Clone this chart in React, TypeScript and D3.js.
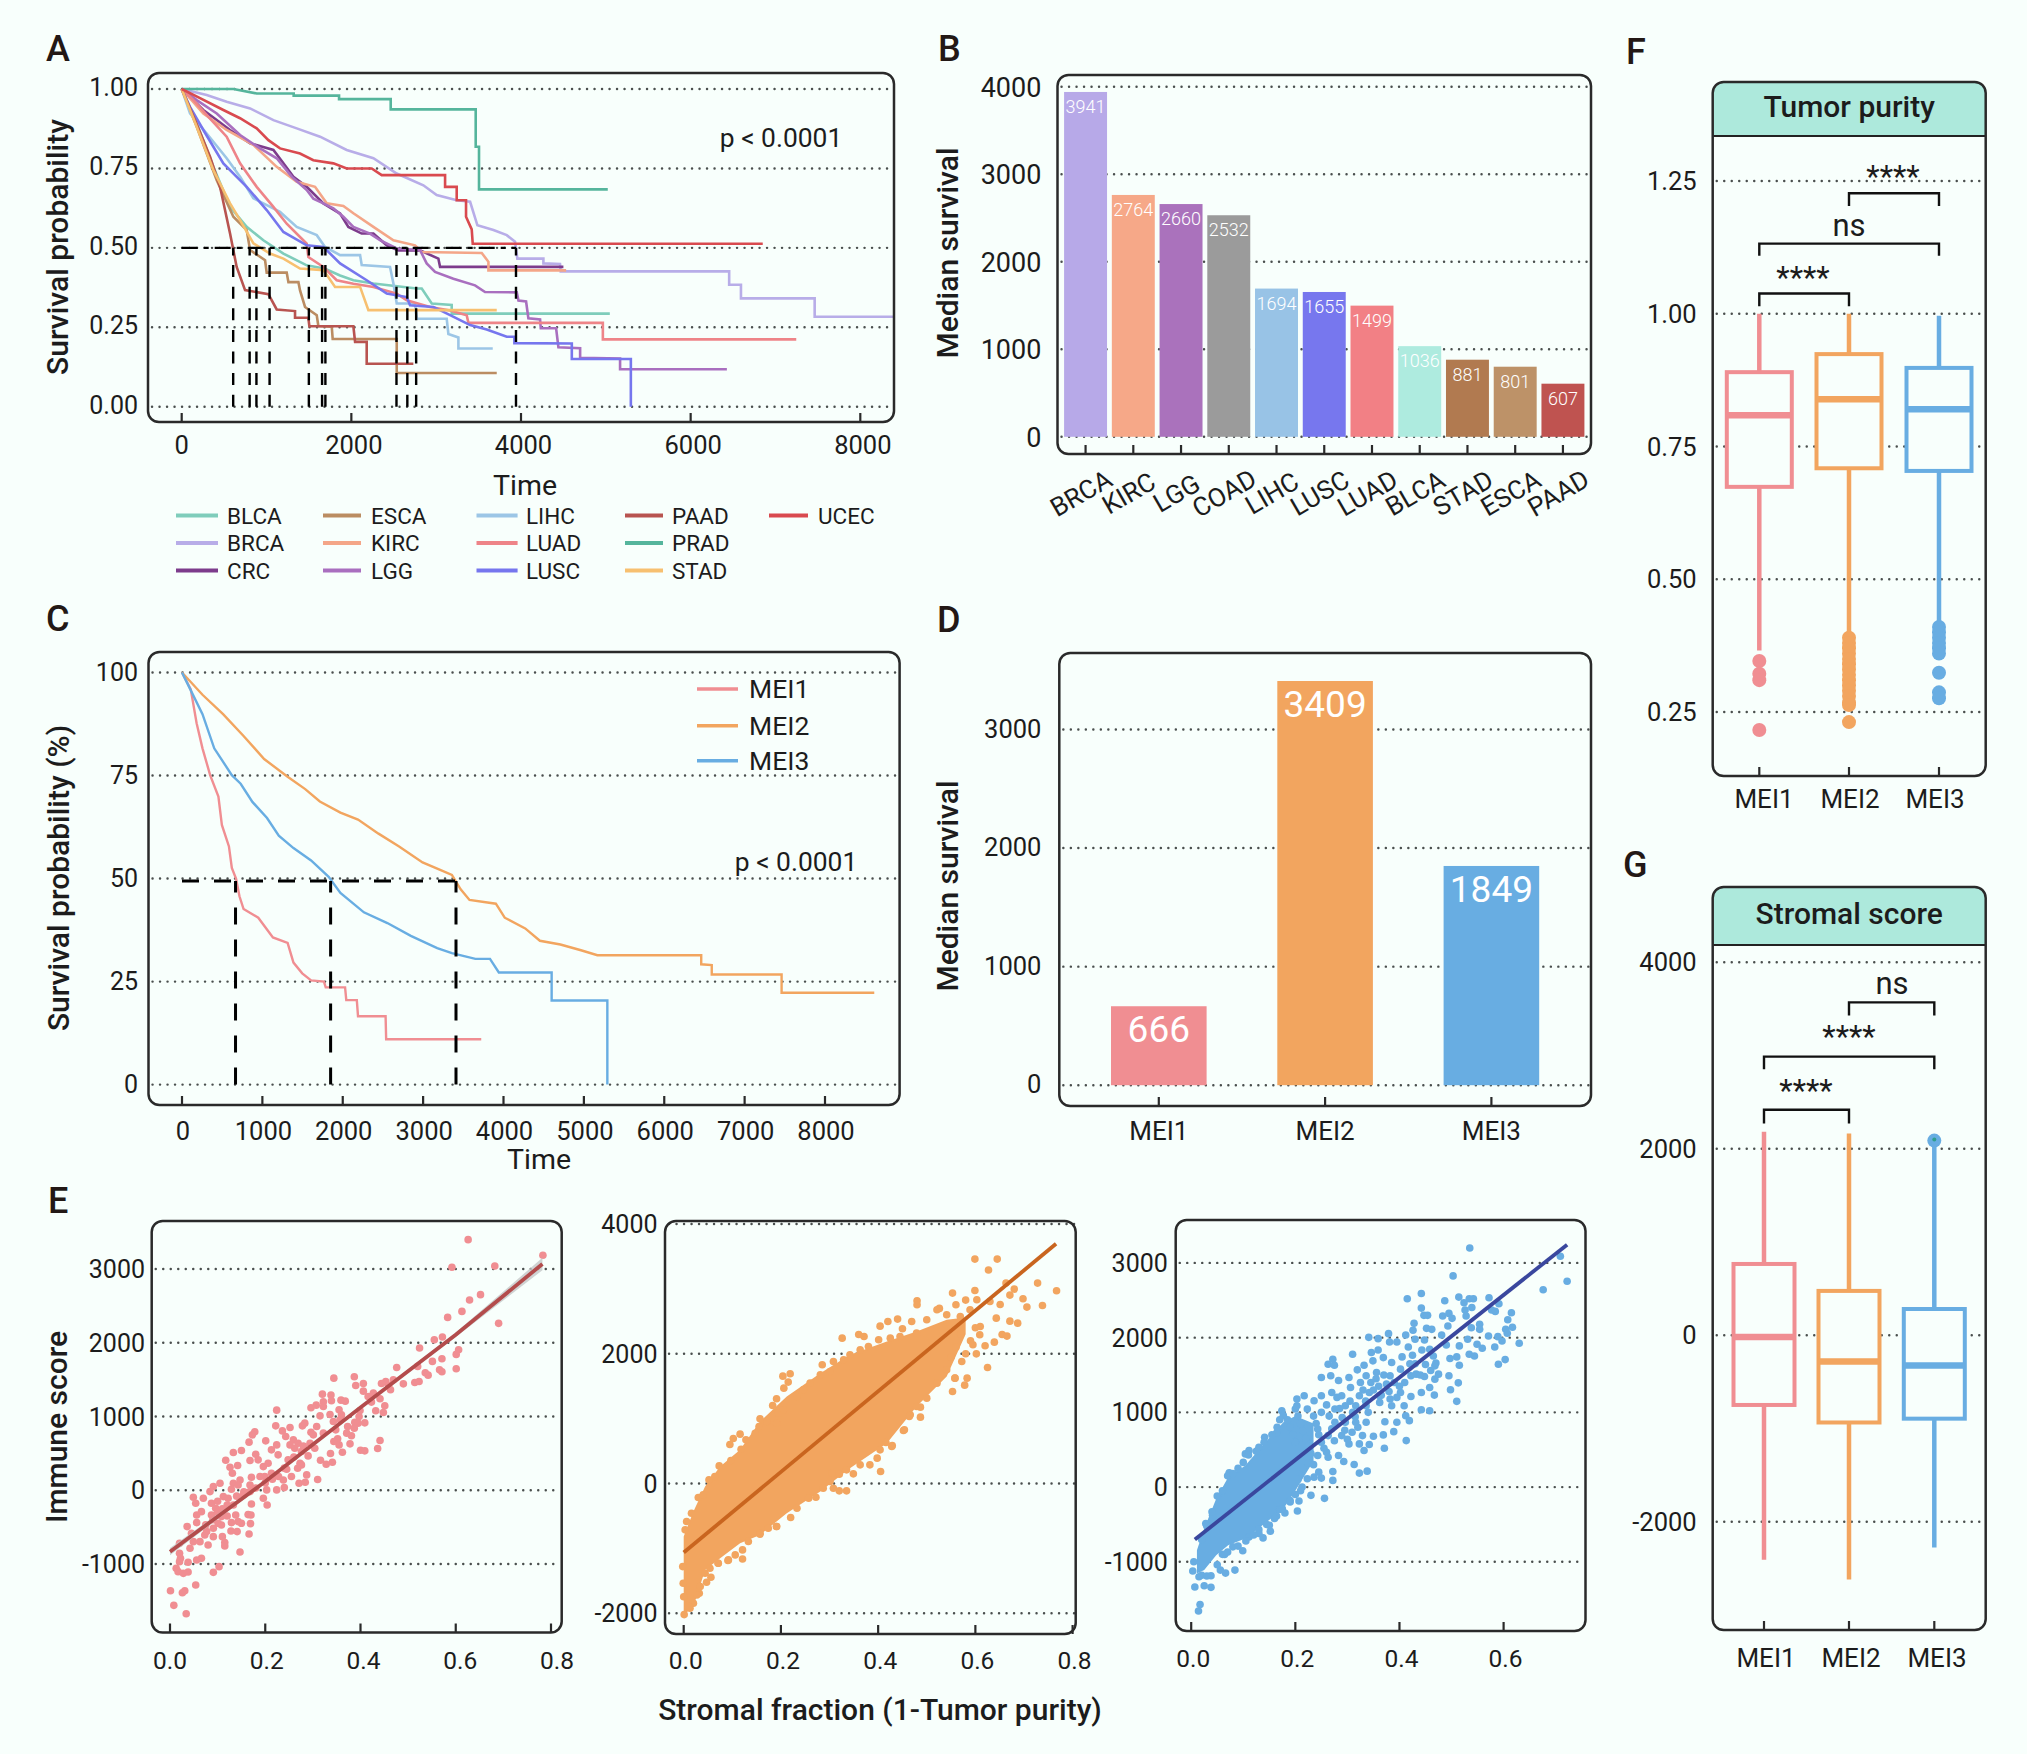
import React, { useEffect, useRef } from 'react';
import * as d3 from 'd3';

type Pt = [number, number];
type Sel = d3.Selection<SVGGElement, unknown, null, undefined>;

const BG = '#f8fffc';
const INK = '#1c1c1c';
const FONT = 'Roboto, sans-serif';

// Panel A
const cancerNames = ['BLCA', 'BRCA', 'CRC', 'ESCA', 'KIRC', 'LGG', 'LIHC', 'LUAD', 'LUSC', 'PAAD', 'PRAD', 'STAD', 'UCEC'];
const cancerColors = ['#7fcdbb', '#b8ade8', '#7d3c8c', '#bb8d62', '#f4a688', '#a96fbf', '#9cc6e6', '#ee8488', '#7676ee', '#b85450', '#55b59c', '#f7c070', '#d94a4f'];
const blca: Pt[] = [[0, 1], [177, .892], [373, .755], [570, .629], [766, .566], [963, .524], [1199, .482], [1474, .445], [1690, .434], [1867, .413], [2024, .398], [2260, .388], [2771, .372], [2830, .372], [2948, .325], [3183, .32], [3183, .293], [5047, .293]];
const brca: Pt[] = [[0, 1], [295, .981], [530, .96], [806, .939], [1081, .902], [1356, .876], [1631, .85], [1945, .808], [2260, .782], [2535, .734], [2849, .697], [3006, .666], [3242, .65], [3400, .645], [3486, .571], [3675, .556], [3832, .54], [3930, .519], [3957, .466], [4264, .466], [4264, .451], [4460, .449], [4468, .426], [6454, .426], [6454, .384], [6593, .384], [6593, .341], [7462, .341], [7462, .283], [8400, .283]];
const crc: Pt[] = [[0, 1], [255, .934], [570, .871], [806, .829], [1081, .808], [1199, .766], [1317, .724], [1474, .692], [1670, .64], [1867, .608], [1965, .566], [2122, .545], [2260, .545], [2417, .508], [2555, .492], [2810, .492], [3026, .466], [3046, .44], [4500, .44]];
const esca: Pt[] = [[0, 1], [177, .881], [413, .713], [609, .598], [766, .556], [806, .493], [983, .461], [1002, .422], [1238, .422], [1258, .392], [1376, .392], [1395, .366], [1454, .314], [1592, .288], [1611, .254], [1769, .252], [1780, .213], [2535, .213], [2535, .106], [3714, .106]];
const kirc: Pt[] = [[0, 1], [255, .923], [530, .871], [845, .824], [1120, .755], [1356, .708], [1572, .692], [1710, .64], [1906, .632], [2024, .609], [2260, .566], [2496, .524], [2751, .508], [2830, .487], [3537, .484], [3616, .456], [3616, .429], [4532, .429]];
const lgg: Pt[] = [[0, 1], [177, .965], [413, .923], [688, .855], [924, .813], [1120, .782], [1297, .724], [1474, .682], [1552, .655], [1670, .64], [1788, .624], [1906, .598], [2024, .566], [2220, .545], [2338, .524], [2535, .498], [2810, .493], [2888, .451], [2987, .424], [3203, .403], [3458, .382], [3576, .361], [3950, .36], [3970, .334], [4060, .331], [4087, .278], [4225, .275], [4233, .247], [4414, .247], [4441, .187], [4697, .184], [4697, .154], [5168, .152], [5168, .118], [6427, .118]];
const lihc: Pt[] = [[0, 1], [98, .923], [295, .86], [530, .782], [688, .724], [845, .656], [1159, .613], [1356, .566], [1592, .54], [1690, .503], [1867, .477], [2103, .477], [2122, .446], [2456, .44], [2496, .388], [2535, .325], [2751, .325], [2771, .277], [3124, .277], [3144, .229], [3262, .218], [3262, .183], [3667, .183]];
const luad: Pt[] = [[0, 1], [138, .965], [334, .907], [530, .85], [688, .766], [884, .692], [1081, .629], [1238, .576], [1474, .513], [1493, .471], [1670, .44], [1827, .398], [2024, .387], [2260, .377], [2535, .356], [2653, .335], [2928, .314], [3164, .303], [3360, .288], [3380, .264], [4965, .264], [4965, .212], [7245, .212]];
const lusc: Pt[] = [[0, 1], [98, .944], [255, .871], [491, .766], [766, .692], [1002, .619], [1199, .55], [1474, .508], [1670, .503], [1867, .451], [2181, .398], [2417, .356], [2653, .345], [2692, .319], [2967, .314], [3164, .288], [3400, .257], [3596, .243], [3832, .22], [3922, .22], [3922, .2], [4599, .199], [4599, .15], [5295, .15], [5295, 0]];
const paad: Pt[] = [[0, 1], [157, .902], [334, .787], [452, .692], [570, .545], [648, .44], [747, .367], [1022, .354], [1120, .306], [1336, .301], [1336, .28], [1493, .28], [1505, .253], [2024, .253], [2044, .204], [2181, .204], [2181, .135], [2731, .135]];
const prad: Pt[] = [[0, 1], [610, 1], [884, .986], [1320, .986], [1320, .979], [1855, .979], [1855, .968], [2464, .968], [2464, .936], [3466, .936], [3466, .818], [3505, .818], [3505, .684], [5023, .684]];
const stad: Pt[] = [[0, 1], [177, .881], [373, .745], [570, .64], [688, .587], [845, .514], [1041, .482], [1199, .466], [1395, .435], [1670, .43], [1808, .377], [2103, .377], [2201, .304], [3714, .304]];
const ucec: Pt[] = [[0, 1], [216, .971], [491, .934], [688, .908], [884, .876], [1022, .839], [1159, .813], [1395, .797], [1552, .776], [1788, .766], [1945, .75], [2240, .75], [2358, .729], [3105, .729], [3105, .692], [3242, .692], [3242, .65], [3352, .65], [3352, .598], [3419, .558], [3431, .513], [6850, .513]];
const cancerCurves = [blca, brca, crc, esca, kirc, lgg, lihc, luad, lusc, paad, prad, stad, ucec];
const cancerMedians = [607, 801, 881, 1036, 1499, 1655, 1694, 2532, 2660, 2764, 3941];

// Panel B
const medianCats = ['BRCA', 'KIRC', 'LGG', 'COAD', 'LIHC', 'LUSC', 'LUAD', 'BLCA', 'STAD', 'ESCA', 'PAAD'];
const medianVals = [3941, 2764, 2660, 2532, 1694, 1655, 1499, 1036, 881, 801, 607];
const medianColors = ['#b7a9e8', '#f6a888', '#aa72bc', '#9b9b9b', '#98c3e6', '#7777ee', '#f28085', '#aeebdf', '#b17a50', '#bd9268', '#bf5350'];

// Panels C, D
const meiNames = ['MEI1', 'MEI2', 'MEI3'];
const meiColors = ['#f08e92', '#f2a55f', '#68ade2'];
const mei1: Pt[] = [[0, 100], [109, 95.9], [182, 87.7], [255, 81.6], [350, 75.1], [453, 69.9], [496, 63], [584, 57.8], [620, 52.6], [672, 50], [715, 45.7], [766, 42.6], [949, 40.5], [1131, 35.7], [1314, 34.4], [1387, 29.6], [1496, 27], [1606, 25.3], [1766, 25], [1788, 23.6], [2029, 23.6], [2044, 20.5], [2175, 20.5], [2190, 16.6], [2533, 16.6], [2540, 11], [3723, 11]];
const mei2: Pt[] = [[0, 100], [255, 94.6], [511, 89.9], [766, 84.6], [1022, 79], [1314, 74.7], [1533, 71.7], [1715, 68.7], [1971, 66], [2190, 64.3], [2445, 60.9], [2701, 57.8], [2993, 53.9], [3212, 52.1], [3358, 50.9], [3467, 47.4], [3577, 44.8], [3905, 43.9], [4015, 40.5], [4270, 37.9], [4453, 34.9], [4708, 34], [4964, 32.6], [5168, 31.4], [6460, 31.4], [6460, 29.2], [6591, 29], [6591, 26.7], [7460, 26.7], [7460, 22.3], [8613, 22.3]];
const mei3: Pt[] = [[0, 100], [146, 94.2], [255, 89.9], [401, 81.6], [620, 75.1], [730, 73], [876, 68.6], [1058, 64.7], [1204, 60.4], [1387, 57.4], [1606, 54.4], [1825, 50.4], [1971, 46.5], [2263, 41.8], [2555, 39.2], [2847, 36.1], [3175, 33.1], [3358, 31.9], [3650, 30.5], [3832, 30.5], [3942, 27.2], [4599, 27.2], [4599, 20.4], [5292, 20.4], [5292, 0]];
const meiMedians = [666, 3409, 1849];
const meiBarVals = [666, 3409, 1849];

// Panel E, first scatter
const scatter1: Pt[] = [[.626, 3398], [.783, 3186], [.592, 3023], [.682, 3041], [.652, 2652], [.629, 2579], [.613, 2425], [.583, 2344], [.69, 2263], [.572, 2077], [.555, 2041], [.524, 1928], [.606, 1905], [.601, 1842], [.571, 1783], [.551, 1747], [.52, 1679], [.476, 1665], [.566, 1634], [.571, 1606], [.601, 1647], [.536, 1593], [.542, 1561], [.514, 1462], [.523, 1475], [.49, 1443], [.463, 1362], [.453, 1475], [.444, 1448], [.459, 1421], [.469, 1498], [.344, 1520], [.387, 1538], [.39, 1421], [.406, 1448], [.406, 1344], [.32, 1303], [.338, 1290], [.339, 1213], [.359, 1222], [.368, 1208], [.296, 1118], [.307, 1154], [.322, 1199], [.322, 1136], [.315, 1009], [.336, 1027], [.355, 1091], [.36, 1023], [.343, 932], [.357, 955], [.399, 1081], [.397, 1000], [.395, 910], [.388, 923], [.409, 914], [.427, 1317], [.441, 1240], [.423, 1195], [.451, 1145], [.448, 1054], [.432, 1077], [.416, 1272], [.441, 674], [.436, 566], [.4, 543], [.409, 534], [.378, 629], [.362, 516], [.355, 615], [.352, 697], [.337, 498], [.341, 380], [.328, 353], [.316, 407], [.31, 145], [.373, 864], [.387, 842], [.371, 774], [.381, 738], [.348, 819], [.344, 661], [.308, 864], [.322, 774], [.224, 1086], [.222, 873], [.252, 851], [.278, 873], [.283, 910], [.236, 805], [.243, 729], [.296, 787], [.301, 751], [.259, 683], [.269, 638], [.252, 615], [.262, 570], [.276, 525], [.294, 638], [.304, 570], [.29, 466], [.273, 367], [.276, 344], [.268, 299], [.287, 208], [.271, 95], [.284, 109], [.255, 186], [.238, 140], [.24, 36], [.224, 5], [.228, 186], [.245, 285], [.224, 615], [.213, 548], [.227, 480], [.248, 412], [.201, 670], [.178, 792], [.173, 751], [.166, 652], [.15, 538], [.133, 511], [.117, 407], [.142, 335], [.126, 312], [.131, 231], [.18, 489], [.168, 403], [.185, 412], [.196, 321], [.206, 367], [.213, 231], [.199, 186], [.171, 176], [.189, 186], [.168, 72], [.147, 140], [.133, 95], [.129, 14], [.143, 72], [.105, 95], [.091, 50], [.084, -18], [.049, -95], [.054, -176], [.07, -109], [.112, -86], [.122, -109], [.133, -199], [.154, -63], [.168, -18], [.196, -109], [.204, -199], [.171, -186], [.203, 5], [.087, -176], [.096, -244], [.066, -290], [.056, -335], [.087, -335], [.108, -357], [.164, -330], [.17, -335], [.138, -335], [.143, -425], [.129, -439], [.169, -452], [.15, -448], [.101, -448], [.108, -471], [.091, -516], [.056, -439], [.036, -493], [.045, -584], [.128, -552], [.141, -561], [.166, -593], [.11, -629], [.091, -629], [.073, -606], [.077, -561], [.063, -697], [.08, -742], [.115, -710], [.115, -756], [.049, -697], [.042, -787], [.02, -719], [.02, -855], [.022, -923], [.02, -968], [.147, -837], [.066, -923], [.056, -946], [.038, -977], [.103, -1036], [.091, -1113], [.038, -1109], [.013, -1059], [.017, -1104], [.028, -1127], [.054, -1285], [.031, -1362], [.026, -1389], [.001, -1362], [.008, -1561], [.034, -1674], [.1, -300], [.11, -250], [.12, -200], [.09, -400], [.075, -470], [.12, -350], [.1, -150], [.14, -80], [.155, -20], [.18, 30], [.2, 100], [.215, 150], [.24, 300], [.26, 450], [.28, 600]];
const fit1: Pt[] = [[0, -833], [.2, 118], [.4, 1122], [.6, 2108], [.782, 3068]];
const fit1Ci = [50, 18, 18, 30, 85];

// Panel E, second scatter
const core2X = [0, .02, .044, .075, .116, .157, .212, .281, .342, .418, .479, .541, .58];
const core2High = [-817, -432, -46, 262, 519, 956, 1341, 1701, 1984, 2190, 2344, 2524, 2560];
const core2Low = [-2025, -1897, -1331, -1151, -920, -792, -457, -123, 236, 622, 1187, 1650, 2300];
const scatter2: Pt[] = [[.599, 3459], [.645, 3459], [.627, 3290], [.663, 3089], [.728, 3089], [.767, 2971], [.68, 2997], [.671, 2904], [.599, 2976], [.553, 2935], [.48, 2817], [.48, 2755], [.698, 2848], [.738, 2745], [.706, 2719], [.651, 2760], [.58, 2827], [.56, 2755], [.526, 2699], [.643, 2549], [.671, 2503], [.687, 2472], [.655, 2298], [.665, 2272], [.639, 2179], [.61, 2421], [.609, 2292], [.595, 2138], [.62, 2123], [.602, 1999], [.625, 1789], [.583, 1624], [.578, 1516], [.553, 1419], [.558, 1624], [.44, 2534], [.42, 2498], [.404, 2426], [.469, 2498], [.45, 2385], [.36, 2298], [.326, 2241], [.371, 2267], [.285, 1830], [.204, 1655], [.219, 1691], [.215, 1563], [.206, 1470], [.191, 1306], [.183, 1203], [.195, 1085], [.157, 997], [.116, 761], [.102, 694], [.095, 601], [.128, 673], [.118, 529], [.097, 355], [.073, 272], [.052, 57], [.03, -216], [.487, 1177], [.487, 1023], [.464, 1033], [.454, 828], [.429, 586], [.416, 632], [.398, 391], [.405, 185], [.383, 288], [.349, 149], [.32, 144], [.335, -113], [.32, -113], [.308, -72], [.272, -211], [.22, -524], [.191, -663], [.157, -781], [.121, -1162], [.091, -1187], [.071, -1228], [.056, -1444], [.047, -1521], [.032, -1691], [.013, -1922], [.001, -2020],
  [.02, -1845], [.027, -1717], [.034, -1588], [.044, -1383], [.054, -1306], [.071, -1228], [.092, -1177], [.106, -1100], [.121, -1023], [.133, -894], [.157, -766], [.174, -689], [.191, -663], [.233, -380], [.257, -226], [.287, -72], [.301, 31], [.305, 159], [.335, 211], [.363, 288], [.404, 519], [.428, 571], [.452, 817], [.466, 1059], [.479, 1187], [.5, 1316], [.521, 1547], [.541, 1753], [.558, 1624], [.572, 1881],
  [.003, -714], [.006, -586], [.016, -457], [.04, -175], [.064, 108], [.147, 776], [.155, 879], [.171, 956], [.191, 930], [.205, 1136], [.233, 1342], [.246, 1444], [.26, 1547], [.281, 1676], [.301, 1727], [.308, 1881], [.329, 1907], [.342, 1984], [.363, 2061], [.38, 2113], [.401, 2215], [.425, 2241], [.445, 2267], [.479, 2318], [.5, 2524], [.521, 2678], [.541, 2601], [.569, 2575], [.589, 2678], [.603, 2832], [.63, 2806],
  [-.002, -1280], [-.001, -1537], [0, -1745], [.01, -1897],
  [.55, 1950], [.56, 2100], [.57, 2300], [.58, 2000], [.59, 2200], [.6, 2400]];
const fit2: Pt[] = [[0, -1064], [.766, 3696]];

// Panel E, third scatter
const core3X = [.011, .025, .048, .071, .104, .137, .177, .2, .235];
const core3High = [-844, -556, -156, 133, 289, 556, 867, 950, 850];
const core3Low = [-1156, -1111, -911, -778, -689, -511, -289, -50, 350];
const scatter3: Pt[] = [[.535, 3200], [.709, 3089], [.503, 2826], [.722, 2755], [.676, 2640], [.415, 2520], [.442, 2591], [.487, 2493], [.514, 2542], [.524, 2466], [.534, 2520], [.542, 2520], [.572, 2533], [.591, 2453], [.539, 2404], [.442, 2395], [.447, 2298], [.454, 2298], [.483, 2289], [.495, 2324], [.501, 2258], [.526, 2369], [.528, 2289], [.577, 2369], [.584, 2351], [.615, 2333], [.608, 2240], [.428, 2191], [.426, 2098], [.452, 2124], [.462, 2111], [.493, 2155], [.538, 2133], [.554, 2178], [.554, 2111], [.617, 2138], [.604, 2111], [.607, 2058], [.341, 2004], [.359, 1986], [.379, 2053], [.381, 1942], [.395, 1942], [.412, 2035], [.43, 1978], [.448, 1969], [.481, 2035], [.49, 1902], [.515, 1889], [.531, 1978], [.571, 2022], [.589, 2013], [.597, 1955], [.63, 1924], [.583, 1875], [.549, 1911], [.559, 1858], [.31, 1778], [.346, 1800], [.359, 1835], [.417, 1875], [.443, 1835], [.458, 1844], [.534, 1778], [.544, 1755], [.497, 1720], [.51, 1742], [.515, 1631], [.59, 1644], [.603, 1706], [.272, 1711], [.263, 1644], [.275, 1631], [.332, 1631], [.349, 1689], [.369, 1733], [.385, 1667], [.405, 1742], [.425, 1764], [.465, 1755], [.468, 1622], [.495, 1489], [.25, 1467], [.268, 1489], [.283, 1427], [.303, 1467], [.319, 1569], [.336, 1489], [.356, 1533], [.382, 1489], [.402, 1578], [.422, 1489], [.432, 1511], [.448, 1480], [.468, 1444], [.475, 1511], [.513, 1395], [.498, 1302], [.51, 1147], [.467, 1231], [.458, 1333], [.442, 1266], [.422, 1213], [.402, 1266], [.382, 1178], [.362, 1222], [.342, 1266], [.323, 1222], [.306, 1333], [.289, 1222], [.27, 1266], [.25, 1222], [.236, 1155], [.217, 1222], [.203, 1178], [.174, 1022], [.2, 1044], [.223, 1044], [.25, 1000], [.276, 1044], [.296, 1089], [.316, 1089], [.336, 1089], [.362, 1133], [.385, 1089], [.409, 1089], [.442, 1035], [.458, 1022], [.412, 955], [.372, 875], [.395, 867], [.419, 889], [.389, 742], [.369, 698], [.35, 680], [.413, 622], [.371, 520], [.342, 569], [.332, 489], [.323, 578], [.303, 578], [.329, 689], [.309, 733], [.289, 689], [.263, 689], [.243, 778], [.316, 867], [.336, 867], [.296, 867], [.276, 867], [.26, 467], [.243, 422], [.263, 400], [.283, 422], [.293, 342], [.313, 302], [.323, 187], [.338, 213], [.272, 209], [.272, 89], [.236, 133], [.223, 111], [.213, 0], [.23, -111], [.256, -151], [.207, -187], [.204, -320], [.18, -347], [.164, -387], [.152, -591], [.138, -680], [.15, -511], [.13, -622], [.111, -667], [.099, -853], [.064, -902], [.084, -1111], [.066, -1151], [.056, -1111], [.038, -1342], [.025, -1320], [.007, -1338], [.017, -1573], [.014, -1658], [.005, -1000], [.003, -1124], [.015, -1200], [.038, -1187], [.104, 444], [.111, 489], [.073, 191], [.041, -378], [.028, -489], [.13, 533], [.141, 667], [.164, 724], [.177, 956], [.203, 1089],
  [.185, 900], [.19, 800], [.195, 700], [.2, 600], [.205, 950], [.21, 850], [.215, 750], [.22, 650], [.225, 550], [.23, 450], [.235, 950], [.24, 850], [.245, 700], [.25, 600], [.255, 520], [.26, 1100], [.265, 950], [.27, 780], [.275, 620], [.28, 1200], [.285, 1050], [.29, 930], [.295, 760], [.3, 640], [.305, 1150], [.31, 1000], [.315, 940], [.32, 800], [.325, 1400], [.33, 1300], [.335, 1150], [.34, 1000], [.345, 1400], [.35, 1300], [.355, 1450], [.36, 1350], [.365, 1230], [.37, 1500], [.375, 1380], [.38, 1280], [.39, 1400], [.395, 1200], [.4, 1350], [.41, 1400], [.42, 1650], [.43, 1650], [.44, 1500], [.45, 1640], [.46, 1560], [.47, 1660],
  [.205, 100], [.215, 250], [.225, 320], [.235, 300], [.245, 200], [.25, 120], [.21, -50], [.2, -100], [.19, -200], [.17, -300],
  [.02, -700], [.03, -520], [.04, -330], [.05, -120], [.06, -50], [.07, 150], [.08, 180], [.09, 250], [.1, 330], [.11, 430], [.125, 480], [.14, 600], [.155, 700], [.165, 800], [.17, 900],
  [.02, -1180], [.03, -1190], [.05, -1040], [.06, -900], [.07, -870], [.08, -800], [.09, -790], [.105, -720], [.12, -640], [.13, -570], [.145, -500], [.16, -420], [.175, -290], [.19, -180]];
const fit3: Pt[] = [[.007, -702], [.722, 3244]];

// Panel F
const purityQ3 = [.89, .924, .898];
const purityMed = [.809, .839, .82];
const purityQ1 = [.674, .709, .704];
const purityHigh = [1, 1, .996];
const purityLow = [.366, .4, .42];
const purityOut = [
  [.346, .322, .31, .216],
  [.39, .38, .37, .36, .35, .34, .33, .32, .31, .3, .29, .28, .268, .263, .231],
  [.41, .4, .39, .38, .37, .36, .324, .287, .276],
];

// Panel G
const stromalQ3 = [765, 476, 282];
const stromalMed = [-18, -282, -324];
const stromalQ1 = [-747, -935, -894];
const stromalHigh = [2182, 2165, 2088];
const stromalLow = [-2406, -2618, -2276];
const stromalOut = [[], [], [2088]];

const text = (g: Sel, x: number, y: number, s: string, size: number, anchor = 'middle', weight = 400, fill = INK, rotate = 0) =>
  g.append('text')
    .attr('transform', `translate(${x},${y})${rotate ? ` rotate(${rotate})` : ''}`)
    .attr('text-anchor', anchor)
    .attr('font-family', FONT)
    .attr('font-size', size)
    .attr('font-weight', weight)
    .attr('fill', fill)
    .text(s);

const grid = (g: Sel, y: d3.ScaleLinear<number, number>, ticks: number[], x0: number, x1: number) => {
  ticks.forEach(t => {
    g.append('line')
      .attr('x1', x0 + 4).attr('x2', x1 - 1)
      .attr('y1', y(t)).attr('y2', y(t))
      .attr('stroke', '#4a4f4e')
      .attr('stroke-width', 2.4)
      .attr('stroke-linecap', 'round')
      .attr('stroke-dasharray', '0.1 7.4');
  });
};

const frame = (g: Sel, x0: number, y0: number, x1: number, y1: number) => {
  g.append('rect')
    .attr('x', x0).attr('y', y0)
    .attr('width', x1 - x0).attr('height', y1 - y0)
    .attr('rx', 11)
    .attr('fill', 'none')
    .attr('stroke', '#2a2a2a')
    .attr('stroke-width', 2.5);
};

const xTicks = (g: Sel, xs: number[], y1: number, len = 9) => {
  xs.forEach(x => {
    g.append('line').attr('x1', x).attr('x2', x).attr('y1', y1 - len).attr('y2', y1)
      .attr('stroke', '#2a2a2a').attr('stroke-width', 2.2);
  });
};

const yLabels = (g: Sel, y: d3.ScaleLinear<number, number>, ticks: number[], x: number, fmt: (v: number) => string, size = 25, dy = 0) => {
  ticks.forEach(t => text(g, x, y(t) + size * 0.36 + dy, fmt(t), size, 'end'));
};

function drawSurvivalA(g: Sel) {
  const x0 = 148, x1 = 894, y0 = 73, y1 = 422;
  const x = d3.scaleLinear().domain([0, 8000]).range([181.7, 860.3]);
  const y = d3.scaleLinear().domain([0, 1]).range([406.7, 89]);
  const ticks = [0, .25, .5, .75, 1];
  grid(g, y, ticks, x0, x1);
  const line = d3.line<Pt>().x(d => x(d[0])).y(d => y(d[1]));
  cancerCurves.forEach((c, i) => {
    g.append('path').attr('d', line(c)).attr('fill', 'none')
      .attr('stroke', cancerColors[i]).attr('stroke-width', 2.6);
  });
  cancerMedians.forEach(m => {
    g.append('line').attr('x1', x(m)).attr('x2', x(m)).attr('y1', y(0)).attr('y2', y(.5))
      .attr('stroke', '#000').attr('stroke-width', 2.4).attr('stroke-dasharray', '12 9.6');
  });
  g.append('line').attr('x1', x(0)).attr('x2', x(3941)).attr('y1', y(.5)).attr('y2', y(.5))
    .attr('stroke', '#000').attr('stroke-width', 2.4).attr('stroke-dasharray', '16 6 5 6');
  frame(g, x0, y0, x1, y1);
  const xt = [0, 2000, 4000, 6000, 8000];
  xTicks(g, xt.map(t => x(t)), y1);
  yLabels(g, y, ticks, 138, d3.format('.2f'), 25, -2);
  xt.forEach(t => text(g, x(t) + (t ? 2.5 : 0), 453.5, String(t), 25.5));
  text(g, 525, 494.5, 'Time', 28.5);
  text(g, 781, 147, 'p < 0.0001', 26.4);
  text(g, 67.5, 247, 'Survival probability', 30, 'middle', 500, INK, -90);

  // legend runs down then across
  const lineStart = [176, 323, 476.5, 625, 769];
  const lineEnd = [218, 361, 517.6, 663, 808];
  const textStart = [227, 371, 526, 672, 818];
  const rows = [515.5, 543, 570.6];
  cancerNames.forEach((n, i) => {
    const c = Math.floor(i / 3), r = i % 3;
    g.append('line').attr('x1', lineStart[c]).attr('x2', lineEnd[c]).attr('y1', rows[r]).attr('y2', rows[r])
      .attr('stroke', cancerColors[i]).attr('stroke-width', 4);
    text(g, textStart[c], rows[r] + 8, n, 22.5, 'start');
  });
}

function drawMedianB(g: Sel) {
  const x0 = 1057.5, x1 = 1591, y0 = 75, y1 = 454;
  const x = d3.scaleBand<string>().domain(medianCats).range([1061.7, 1586.8]).paddingInner(0.1).paddingOuter(0.05);
  const y = d3.scaleLinear().domain([0, 4000]).range([436.8, 86.8]);
  const ticks = [0, 1000, 2000, 3000, 4000];
  grid(g, y, ticks, x0, x1);
  medianCats.forEach((c, i) => {
    const bx = x(c)!, bw = x.bandwidth();
    g.append('rect').attr('x', bx).attr('y', y(medianVals[i])).attr('width', bw).attr('height', y(0) - y(medianVals[i]))
      .attr('fill', medianColors[i]);
    text(g, bx + bw / 2, y(medianVals[i]) + 21, String(medianVals[i]), 18, 'middle', 300, '#ffffff');
  });
  frame(g, x0, y0, x1, y1);
  const centers = medianCats.map(c => x(c)! + x.bandwidth() / 2);
  xTicks(g, centers, y1);
  yLabels(g, y, ticks, 1041.4, String, 27);
  medianCats.forEach((c, i) => text(g, centers[i], 501, c, 26, 'middle', 400, INK, -30));
  text(g, 958, 253, 'Median survival', 30, 'middle', 500, INK, -90);
}

function drawSurvivalC(g: Sel) {
  const x0 = 148.5, x1 = 899.6, y0 = 652, y1 = 1105;
  const x = d3.scaleLinear().domain([0, 8000]).range([182, 825]);
  const y = d3.scaleLinear().domain([0, 100]).range([1084.6, 672.5]);
  const ticks = [0, 25, 50, 75, 100];
  grid(g, y, ticks, x0, x1);
  const line = d3.line<Pt>().x(d => x(d[0])).y(d => y(d[1]));
  [mei1, mei2, mei3].forEach((c, i) => {
    g.append('path').attr('d', line(c)).attr('fill', 'none')
      .attr('stroke', meiColors[i]).attr('stroke-width', 2.4);
  });
  meiMedians.forEach(m => {
    g.append('line').attr('x1', x(m)).attr('x2', x(m)).attr('y1', y(0)).attr('y2', y(49.4))
      .attr('stroke', '#000').attr('stroke-width', 3).attr('stroke-dasharray', '17 15');
  });
  g.append('line').attr('x1', x(0)).attr('x2', x(3409)).attr('y1', y(49.4)).attr('y2', y(49.4))
    .attr('stroke', '#000').attr('stroke-width', 3.2).attr('stroke-dasharray', '17 15');
  frame(g, x0, y0, x1, y1);
  const xt = [0, 1000, 2000, 3000, 4000, 5000, 6000, 7000, 8000];
  xTicks(g, xt.map(t => x(t)), y1);
  yLabels(g, y, ticks, 138, String, 25, -1);
  xt.forEach(t => text(g, x(t) + 1, 1140, String(t), 25.5));
  text(g, 539, 1169, 'Time', 28.5);
  text(g, 796, 871, 'p < 0.0001', 26.4);
  text(g, 69, 878, 'Survival probability (%)', 30, 'middle', 500, INK, -90);
  const rows = [689, 725.7, 760.7];
  meiNames.forEach((n, i) => {
    g.append('line').attr('x1', 697).attr('x2', 738).attr('y1', rows[i]).attr('y2', rows[i])
      .attr('stroke', meiColors[i]).attr('stroke-width', 3.4);
    text(g, 749, rows[i] + 9, n, 26.5, 'start');
  });
}

function drawMedianD(g: Sel) {
  const x0 = 1059.3, x1 = 1591, y0 = 653, y1 = 1106;
  const x = d3.scalePoint<string>().domain(meiNames).range([1158.8, 1491.4]);
  const y = d3.scaleLinear().domain([0, 3000]).range([1085.2, 729.5]);
  const ticks = [0, 1000, 2000, 3000];
  grid(g, y, ticks, x0, x1);
  meiNames.forEach((n, i) => {
    const v = meiBarVals[i];
    g.append('rect').attr('x', x(n)! - 47.8).attr('y', y(v)).attr('width', 95.6).attr('height', y(0) - y(v))
      .attr('fill', meiColors[i]);
    text(g, x(n)!, y(v) + 36, String(v), 37, 'middle', 400, '#ffffff');
  });
  frame(g, x0, y0, x1, y1);
  xTicks(g, meiNames.map(n => x(n)!), y1);
  yLabels(g, y, ticks, 1041.4, String, 25.5, -1);
  meiNames.forEach(n => text(g, x(n)!, 1140, n, 26));
  text(g, 958, 886, 'Median survival', 30, 'middle', 500, INK, -90);
}

interface ScatterOpts {
  frameBox: [number, number, number, number];
  x: d3.ScaleLinear<number, number>;
  y: d3.ScaleLinear<number, number>;
  labelScale?: d3.ScaleLinear<number, number>;
  yTicks: number[];
  xLabelTicks: number[];
  color: string;
  lineColor: string;
  labelX: number;
  labelY: number;
  points: Pt[];
  fit: Pt[];
  coreX?: number[];
  coreHigh?: number[];
  coreLow?: number[];
  ci?: number[];
}

function drawScatter(g: Sel, o: ScatterOpts) {
  const [x0, y0, x1, y1] = o.frameBox;
  grid(g, o.y, o.yTicks, x0, x1);
  if (o.coreX && o.coreHigh && o.coreLow) {
    const area = d3.area<number>()
      .x(d => o.x(o.coreX![d]))
      .y0(d => o.y(o.coreLow![d]))
      .y1(d => o.y(o.coreHigh![d]));
    g.append('path').attr('d', area(d3.range(o.coreX.length))).attr('fill', o.color);
  }
  g.selectAll('.pt').data(o.points).enter().append('circle')
    .attr('cx', d => o.x(d[0])).attr('cy', d => o.y(d[1])).attr('r', 3.8).attr('fill', o.color);
  if (o.ci) {
    const ci = o.ci;
    const band = d3.area<Pt>()
      .x(d => o.x(d[0]))
      .y0((d, i) => o.y(d[1] - ci[i]))
      .y1((d, i) => o.y(d[1] + ci[i]));
    g.append('path').attr('d', band(o.fit)).attr('fill', '#c4c8c8').attr('opacity', 0.8);
  }
  const line = d3.line<Pt>().x(d => o.x(d[0])).y(d => o.y(d[1]));
  g.append('path').attr('d', line(o.fit)).attr('fill', 'none').attr('stroke', o.lineColor).attr('stroke-width', 3.8);
  frame(g, x0, y0, x1, y1);
  xTicks(g, o.xLabelTicks.map(t => o.x(t)), y1);
  yLabels(g, o.y, o.yTicks, o.labelX, String);
  const lx = o.labelScale || o.x;
  o.xLabelTicks.forEach(t => text(g, lx(t) + (o.labelScale ? 0 : 2), o.labelY, d3.format('.1f')(t), 24.5));
}

function drawBox(
  g: Sel, title: string, box: [number, number, number, number], stripBottom: number,
  y: d3.ScaleLinear<number, number>, ticks: number[], fmt: (v: number) => string,
  centers: number[], labelCenters: number[], labelBase: number, boxW: number, titleBase: number,
  q3: number[], med: number[], q1: number[], hi: number[], lo: number[], out: number[][],
) {
  const [x0, y0, x1, y1] = box;
  g.append('rect').attr('x', x0).attr('y', y0).attr('width', x1 - x0).attr('height', 40).attr('rx', 11).attr('fill', '#ade9dc');
  g.append('rect').attr('x', x0).attr('y', y0 + 20).attr('width', x1 - x0).attr('height', stripBottom - y0 - 20).attr('fill', '#ade9dc');
  g.append('line').attr('x1', x0).attr('x2', x1).attr('y1', stripBottom).attr('y2', stripBottom).attr('stroke', '#222').attr('stroke-width', 2.2);
  text(g, (x0 + x1) / 2, titleBase, title, 30, 'middle', 500);
  grid(g, y, ticks, x0, x1);
  centers.forEach((cx, i) => {
    const col = meiColors[i];
    g.append('line').attr('x1', cx).attr('x2', cx).attr('y1', y(hi[i])).attr('y2', y(lo[i]))
      .attr('stroke', col).attr('stroke-width', 4.5);
    g.append('rect').attr('x', cx - boxW / 2).attr('y', y(q3[i])).attr('width', boxW).attr('height', y(q1[i]) - y(q3[i]))
      .attr('fill', BG).attr('stroke', col).attr('stroke-width', 4);
    g.append('line').attr('x1', cx - boxW / 2).attr('x2', cx + boxW / 2).attr('y1', y(med[i])).attr('y2', y(med[i]))
      .attr('stroke', col).attr('stroke-width', 6.5);
    out[i].forEach(v => {
      g.append('circle').attr('cx', cx).attr('cy', y(v)).attr('r', 7).attr('fill', col);
    });
  });
  frame(g, x0, y0, x1, y1);
  xTicks(g, centers, y1);
  yLabels(g, y, ticks, 1696.7, fmt, 25.5);
  meiNames.forEach((n, i) => text(g, labelCenters[i], labelBase, n, 26));
}

function bracket(g: Sel, x0: number, x1: number, top: number, drop: number, label: string, lx: number, ly: number) {
  const p = d3.path();
  p.moveTo(x0, drop); p.lineTo(x0, top); p.lineTo(x1, top); p.lineTo(x1, drop);
  g.append('path').attr('d', p.toString()).attr('fill', 'none').attr('stroke', '#111').attr('stroke-width', 2.4);
  text(g, lx, ly, label, 31);
}

const App: React.FC = () => {
  const ref = useRef<SVGSVGElement>(null);

  useEffect(() => {
    if (!ref.current) return;
    const svg = d3.select(ref.current);
    svg.selectAll('*').remove();
    const root = svg.append('g') as unknown as Sel;
    root.append('rect').attr('width', 2027).attr('height', 1754).attr('fill', BG);

    const letters: [string, number, number][] = [['A', 46, 61], ['B', 938, 61], ['F', 1626, 64], ['C', 46, 631], ['D', 937, 632], ['G', 1623, 877], ['E', 48, 1213]];
    letters.forEach(l => text(root, l[1], l[2], l[0], 36, 'start', 500, '#231815'));

    drawSurvivalA(root);
    drawMedianB(root);
    drawSurvivalC(root);
    drawMedianD(root);

    drawScatter(root, {
      frameBox: [151.7, 1221, 561.7, 1632.5],
      x: d3.scaleLinear().domain([0, .8]).range([170, 551]),
      y: d3.scaleLinear().domain([-1000, 3000]).range([1564, 1269]),
      labelScale: d3.scaleLinear().domain([0, .8]).range([170, 557]),
      yTicks: [-1000, 0, 1000, 2000, 3000], xLabelTicks: [0, .2, .4, .6, .8],
      color: '#f08e92', lineColor: '#b34c4c', labelX: 145, labelY: 1668.6,
      points: scatter1, fit: fit1, ci: fit1Ci,
    });
    drawScatter(root, {
      frameBox: [665, 1221, 1075.7, 1634],
      x: d3.scaleLinear().domain([0, .8]).range([683.7, 1072.6]),
      y: d3.scaleLinear().domain([-2000, 4000]).range([1613.3, 1224]),
      yTicks: [-2000, 0, 2000, 4000], xLabelTicks: [0, .2, .4, .6, .8],
      color: '#f2a55f', lineColor: '#c9651f', labelX: 657.5, labelY: 1668.6,
      points: scatter2, fit: fit2, coreX: core2X, coreHigh: core2High, coreLow: core2Low,
    });
    drawScatter(root, {
      frameBox: [1175.7, 1220, 1585.5, 1631],
      x: d3.scaleLinear().domain([0, .6]).range([1191.2, 1503.6]),
      y: d3.scaleLinear().domain([-1000, 3000]).range([1561.8, 1262.9]),
      yTicks: [-1000, 0, 1000, 2000, 3000], xLabelTicks: [0, .2, .4, .6],
      color: '#68ade2', lineColor: '#3a479e', labelX: 1167.8, labelY: 1667,
      points: scatter3, fit: fit3, coreX: core3X, coreHigh: core3High, coreLow: core3Low,
    });
    text(root, 67, 1427, 'Immune score', 30, 'middle', 500, INK, -90);
    text(root, 880, 1720, 'Stromal fraction (1-Tumor purity)', 30, 'middle', 500);

    const yF = d3.scaleLinear().domain([.25, 1.25]).range([712, 181]);
    const cF = [1759.3, 1849, 1939];
    drawBox(root, 'Tumor purity', [1712.7, 82, 1985.7, 776], 136, yF, [.25, .5, .75, 1, 1.25], d3.format('.2f'),
      cF, [1764, 1850, 1935], 808, 65, 117, purityQ3, purityMed, purityQ1, purityHigh, purityLow, purityOut);
    bracket(root, cF[0], cF[1], yF(1.038), yF(1.014), '****', 1803, 288);
    bracket(root, cF[0], cF[2], yF(1.132), yF(1.109), 'ns', 1849, 236);
    bracket(root, cF[1], cF[2], yF(1.227), yF(1.203), '****', 1893, 187);

    const yG = d3.scaleLinear().domain([-2000, 4000]).range([1521.8, 962.3]);
    const cG = [1764, 1849, 1934.3];
    drawBox(root, 'Stromal score', [1712.7, 887, 1985.7, 1630], 945, yG, [-2000, 0, 2000, 4000], String,
      cG, [1766, 1851, 1937], 1667, 61, 924, stromalQ3, stromalMed, stromalQ1, stromalHigh, stromalLow, stromalOut);
    bracket(root, cG[0], cG[1], yG(2418), yG(2270), '****', 1806, 1101);
    bracket(root, cG[0], cG[2], yG(2988), yG(2853), '****', 1849, 1047);
    bracket(root, cG[1], cG[2], yG(3570), yG(3429), 'ns', 1892, 994);
    root.append('circle').attr('cx', cG[2]).attr('cy', yG(2088) - 1).attr('r', 2).attr('fill', '#2f9e8f');
  }, []);

  return (
    <svg ref={ref} width={2027} height={1754} viewBox="0 0 2027 1754"
      style={{ position: 'absolute', left: 0, top: 0 }} />
  );
};

export default App;
